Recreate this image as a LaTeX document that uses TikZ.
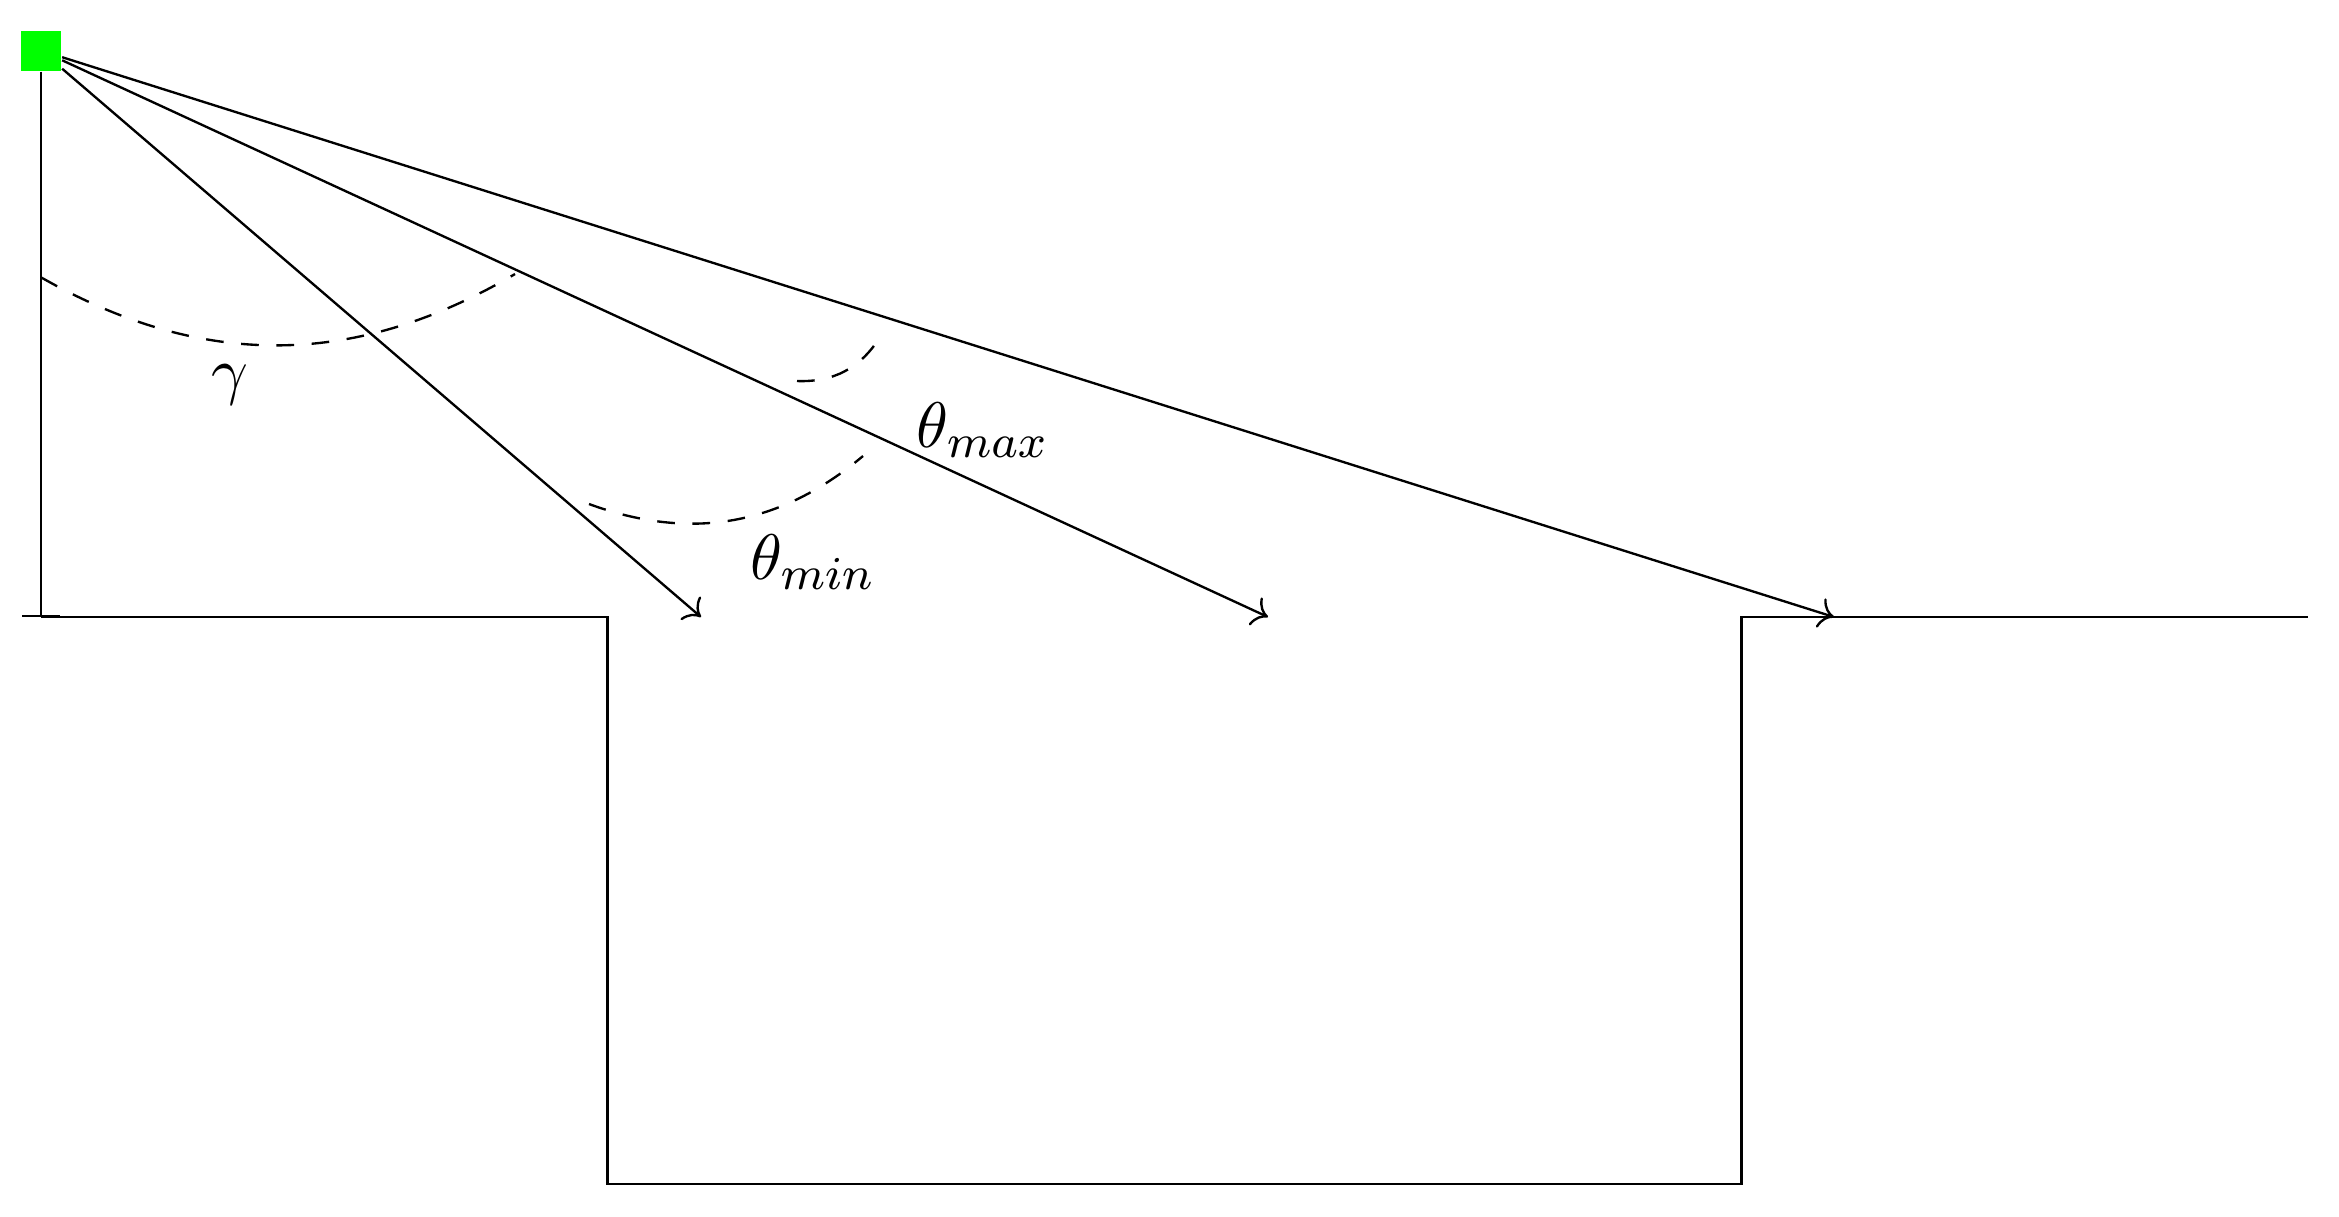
\documentclass[tikz,border=0pt]{standalone}
\usetikzlibrary{arrows.meta}
\begin{document}
\begin{tikzpicture}[x=0.17pt,y=-0.17pt,
  font=\fontsize{11}{13}\selectfont,
  ray/.style={->},
  angarc/.style={dash pattern=on 3pt off 3pt},
  lab/.style={inner sep=0pt},
  sensor/.style={fill=green, draw=none, minimum size=6.8pt, inner sep=0pt}]
\useasboundingbox (0,0) rectangle (2339,1216);
\node[sensor] (src) at (41,50.5) {};
\coordinate (foot) at (41,617);
\coordinate (p1) at (607.5,617);
\coordinate (p2) at (607.5,1184);
\coordinate (p3) at (1741.5,1184);
\coordinate (p4) at (1741.5,617);
\coordinate (p5) at (2308,617);
\coordinate (t1) at (701,617);
\coordinate (t2) at (1268,617);
\coordinate (t3) at (1834,617);
% ground profile
\draw (foot) -- (p1) -- (p2) -- (p3) -- (p4) -- (p5);
% vertical
\draw[-{Bar[width=6.5pt]}] (src) -- (foot);
% rays
\draw[ray] (src) -- (t1);
\draw[ray] (src) -- (t2);
\draw[ray] (src) -- (t3);
% angle arcs
\coordinate (g1) at (41.7,277.7);
\coordinate (g2) at (515,274);
\coordinate (m1) at (797,381);
\coordinate (m2) at (880,337);
\coordinate (n1) at (589,504);
\coordinate (n2) at (863,456);
\draw[angarc] (g1) to[bend right=30] (g2);
\draw[angarc] (m1) to[bend right=30] (m2);
\draw[angarc] (n1) to[bend right=30] (n2);
% labels
\node[lab] (lg) at (230,385) {$\gamma$};
\node[lab] (lmax) at (983,430) {$\theta_{max}$};
\node[lab] (lmin) at (813,562) {$\theta_{min}$};
\end{tikzpicture}
\end{document}
